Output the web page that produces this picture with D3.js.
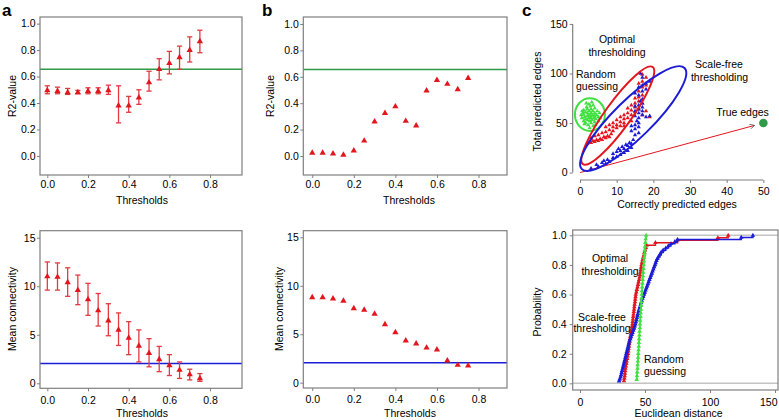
<!DOCTYPE html>
<html>
<head>
<meta charset="utf-8">
<script src="https://cdn.jsdelivr.net/npm/d3@7"></script>
<style>
body{margin:0;background:#fff}
svg{font-family:"Liberation Sans",Arial,Helvetica,sans-serif;font-size:10.5px}
</style>
</head>
<body>
<script>
// thresholds used in panels a and b
var thresholds = [0, 0.05, 0.1, 0.15, 0.2, 0.25, 0.3, 0.35, 0.4, 0.45, 0.5, 0.55, 0.6, 0.65, 0.7, 0.75]

// panel a, R2 (mean and error range)
var r2Mean = [0.495, 0.49, 0.48, 0.48, 0.49, 0.49, 0.495, 0.38, 0.38, 0.44, 0.555, 0.655, 0.70, 0.745, 0.80, 0.865]
var r2Low  = [0.47, 0.47, 0.465, 0.47, 0.47, 0.47, 0.465, 0.25, 0.33, 0.39, 0.49, 0.575, 0.62, 0.655, 0.71, 0.78]
var r2High = [0.53, 0.52, 0.51, 0.495, 0.515, 0.515, 0.535, 0.53, 0.45, 0.50, 0.64, 0.735, 0.79, 0.83, 0.90, 0.95]
// panel b, R2
var r2Single = [0.023, 0.023, 0.018, 0.008, 0.04, 0.115, 0.26, 0.325, 0.375, 0.265, 0.23, 0.495, 0.575, 0.545, 0.505, 0.59]
var r2Cutoff = 0.655

// panel a, mean connectivity
var connMean = [11.0, 10.95, 10.4, 9.6, 8.65, 7.5, 6.45, 5.5, 4.67, 3.85, 3.1, 2.47, 1.85, 1.37, 0.9, 0.5]
var connLow  = [9.6, 9.6, 8.96, 8.1, 7.0, 5.9, 4.9, 3.9, 2.95, 2.2, 1.7, 1.2, 0.8, 0.5, 0.35, 0.2]
var connHigh = [12.5, 12.4, 11.9, 11.15, 10.3, 9.25, 8.2, 7.25, 6.35, 5.5, 4.6, 3.8, 2.95, 2.2, 1.45, 1.0]
// panel b, mean connectivity
var connSingle = [8.8, 8.8, 8.67, 8.43, 7.67, 7.5, 7.09, 6.02, 5.19, 4.33, 4.02, 3.6, 3.4, 2.27, 1.82, 1.75]
var connTarget = 2.05

// panel c top: [correctly predicted, total predicted]
var randomPts = [[0.5,55],[0.8,60],[1,52],[1,58],[1,63],[1.3,56],[1.5,50],[1.5,54],[1.5,61],[1.8,66],
  [2,53],[2,57],[2,60],[2,64],[2.2,48],[2.4,55],[2.5,58],[2.5,62],[2.7,52],[2.8,67],[3,50],[3,55],
  [3,57],[3,60],[3,64],[3.3,53],[3.4,58],[3.5,62],[3.6,47],[3.8,55],[4,51],[4,57],[4,60],[4,65],
  [4.3,54],[4.5,58],[4.7,62],[5,52],[5,56],[5.3,60],[1.7,70],[2.4,69],[3.6,68],[0.3,58],[5.5,55],
  [1.2,49],[2.6,45],[4.2,48],[0.6,62],[3.2,71]]
var optimalPts = [[2,29],[2.5,31],[3,30],[3.5,32],[4,31],[4.5,33],[5,32],[5.5,34],[6,33],[6.5,36],
  [7,35],[7.5,37],[8,36],[8.5,39],[3,35],[4,37],[5,38],[6,40],[7,41],[8,43],[9,42],[9,46],[10,45],
  [10,48],[11,47],[11,51],[12,50],[12,54],[7,46],[8,48],[9,50],[10,53],[11,56],[12,58],[13,55],
  [13,60],[14,58],[14,63],[15,61],[15,66],[13,65],[14,68],[15,70],[16,64],[16,72],[16,76],[17,70],
  [17,78],[15,75],[16,82],[17,86],[17,92],[18,88],[17,99],[18,96],[19,56],[18,62],[17,58],[14,52],
  [12,47],[16,90]]
var scaleFreePts = [[3,4],[4.5,8],[5,6],[6,10],[6.5,12],[7,9],[7.5,13],[8,11],[9,15],[9,19],[10,16],
  [10,21],[10.5,24],[11,18],[11,22],[11.5,26],[12,20],[12,24],[12.5,28],[13,22],[13,27],[13.5,30],
  [14,25],[14,29],[14.5,33],[15,38],[15,44],[15,48],[15.5,52],[15,57],[16,40],[16,46],[16,50],
  [16,55],[16,60],[16,64],[16,68],[16.5,72],[17,58],[17,62],[17,66],[17,70],[17,74],[15,62],[15,67],
  [14,42],[14,47],[18,56],[19,57],[16,78],[17,82],[16,86],[17,88],[18,90],[18,84],[17,96],[16.5,100],
  [19,92],[15,80]]
var trueEdges = [50, 50]

// panel c bottom: euclidean distances
var distOptimal = [33.8,34.1,34.4,34.6,34.8,35.0,35.3,35.6,35.9,36.3,36.6,36.9,37.2,37.4,37.7,37.9,
  38.2,38.4,38.7,39.1,39.4,39.7,40.0,40.3,40.5,40.7,40.9,41.2,41.4,41.6,41.8,42.0,42.3,42.5,42.7,
  42.9,43.3,43.7,44.2,44.6,45.0,45.5,45.8,46.1,46.4,46.7,47.0,47.3,47.7,48.2,48.6,49.1,49.5,50.0,
  50.6,51.2,58.0,75.0,106.0,114.0]
var distScaleFree = [30.0,30.6,31.2,31.6,32.0,32.4,32.8,33.2,33.6,34.0,34.4,34.8,35.2,35.6,36.0,36.4,
  36.8,37.2,37.6,38.0,38.6,39.2,39.8,40.4,41.0,41.6,42.1,42.6,43.0,43.4,43.8,44.2,44.6,45.0,45.5,
  46.0,46.5,47.0,47.5,48.0,48.6,49.2,49.8,50.4,51.0,51.6,52.2,52.8,53.4,54.0,54.6,55.2,55.8,56.4,
  57.0,57.6,58.2,58.8,59.5,60.5,61.5,62.5,64.0,66.0,68.0,70.0,73.0,75.0,124.0,133.0]
var distRandom = [43.6,43.8,44.0,44.2,44.3,44.5,44.7,44.8,45.0,45.2,45.3,45.5,45.7,45.8,46.0,46.1,
  46.3,46.5,46.6,46.8,47.0,47.1,47.3,47.5,47.6,47.8,48.0,48.2,48.4,48.6,48.8,49.0,49.2,49.4,49.6,
  49.8,50.0,50.2,50.5,50.9]

var red = '#e3161e', blue = '#1c1cd6', green = '#3fe03f', darkGreen = '#2f9a4a', grey = '#7f7f7f'

var svg = d3.select('body').append('svg').attr('width', 779).attr('height', 420)

function axes(x, y, xt, yt, xf, yf, xPad, yPad) {
  var xa = svg.append('g').attr('transform', 'translate(0,' + y.range()[0] + ')')
    .call(d3.axisBottom(x).tickValues(xt).tickFormat(xf).tickSize(3).tickPadding(xPad))
  var ya = svg.append('g').attr('transform', 'translate(' + x.range()[0] + ',0)')
    .call(d3.axisLeft(y).tickValues(yt).tickFormat(yf).tickSize(3).tickPadding(yPad))
  ;[xa, ya].forEach(function(a){
    a.attr('font-family', null).attr('font-size', null)
    a.select('.domain').remove()
    a.selectAll('.tick line').attr('stroke', grey)
    a.selectAll('.tick text').attr('fill', '#000')
  })
  return xa
}

function box(x, y) {
  svg.append('rect')
     .attr('x', x.range()[0]).attr('y', y.range()[1])
     .attr('width', x.range()[1] - x.range()[0])
     .attr('height', y.range()[0] - y.range()[1])
     .attr('fill', 'none').attr('stroke', grey).attr('stroke-width', 1.2)
}

function hline(x, y, v, col) {
  svg.append('line')
     .attr('x1', x.range()[0]).attr('x2', x.range()[1])
     .attr('y1', y(v)).attr('y2', y(v))
     .attr('stroke', col).attr('stroke-width', 1.5)
}

function label(txt, px, py, opts) {
  opts = opts || {}
  var t = svg.append('text').attr('x', px).attr('y', py)
             .attr('text-anchor', opts.anchor || 'middle').text(txt)
  if (opts.rotate) t.attr('transform', 'rotate(-90,' + px + ',' + py + ')')
  if (opts.size) t.attr('font-size', opts.size)
  if (opts.bold) t.attr('font-weight', 'bold')
  return t
}

function triangles(x, y, pts, col, size) {
  svg.append('g').selectAll('path').data(pts).enter().append('path')
     .attr('d', d3.symbol().type(d3.symbolTriangle).size(size))
     .attr('transform', function(d){ return 'translate(' + x(d[0]) + ',' + y(d[1]) + ')' })
     .attr('fill', col)
}

function errorBars(x, y, lo, hi) {
  var g = svg.append('g').attr('stroke', '#e23a42').attr('stroke-width', 1.3)
  g.selectAll('.bar').data(thresholds).enter().append('line')
   .attr('x1', function(d){ return x(d) }).attr('x2', function(d){ return x(d) })
   .attr('y1', function(d, i){ return y(lo[i]) }).attr('y2', function(d, i){ return y(hi[i]) })
  ;[lo, hi].forEach(function(arr){
    g.selectAll(null).data(thresholds).enter().append('line')
     .attr('x1', function(d){ return x(d) - 2.6 }).attr('x2', function(d){ return x(d) + 2.6 })
     .attr('y1', function(d, i){ return y(arr[i]) }).attr('y2', function(d, i){ return y(arr[i]) })
  })
}

function zip(xs, ys) { return xs.map(function(v, i){ return [v, ys[i]] }) }

var f1 = d3.format('.1f'), f0 = d3.format('d')
var thrTicks = [0, 0.2, 0.4, 0.6, 0.8]

// ---- panel a
var xA = d3.scaleLinear().domain([-0.036, 0.957]).range([40, 242])
var yA1 = d3.scaleLinear().domain([-0.144, 1.05]).range([175, 17])
var yA2 = d3.scaleLinear().domain([-0.515, 15.72]).range([388.3, 230.7])

hline(xA, yA1, r2Cutoff, darkGreen)
errorBars(xA, yA1, r2Low, r2High)
triangles(xA, yA1, zip(thresholds, r2Mean), red, 17)
box(xA, yA1)
axes(xA, yA1, thrTicks, [0, 0.2, 0.4, 0.6, 0.8, 1.0], f1, f1, 2.8, 1.5)

hline(xA, yA2, connTarget, blue)
errorBars(xA, yA2, connLow, connHigh)
triangles(xA, yA2, zip(thresholds, connMean), red, 17)
box(xA, yA2)
axes(xA, yA2, thrTicks, [0, 5, 10, 15], f1, f0, 5, 1.5)

label('R2-value', 15.5, 96, {rotate: true})
label('Thresholds', 142, 204)
label('Mean connectivity', 15.5, 309, {rotate: true})
label('Thresholds', 142, 416.5)

// ---- panel b
var xB = d3.scaleLinear().domain([-0.043, 0.937]).range([303.3, 507])
var yB1 = d3.scaleLinear().domain([-0.144, 1.053]).range([175, 17])
var yB2 = d3.scaleLinear().domain([-0.55, 15.68]).range([388, 230.7])

hline(xB, yB1, r2Cutoff, darkGreen)
triangles(xB, yB1, zip(thresholds, r2Single), red, 17)
box(xB, yB1)
axes(xB, yB1, thrTicks, [0, 0.2, 0.4, 0.6, 0.8, 1.0], f1, f1, 2.8, 1.5)

hline(xB, yB2, connTarget, blue)
triangles(xB, yB2, zip(thresholds, connSingle), red, 17)
box(xB, yB2)
axes(xB, yB2, thrTicks, [0, 5, 10, 15], f1, f0, 5, 1.5)

label('R2-value', 274, 96, {rotate: true})
label('Thresholds', 409, 204)
label('Mean connectivity', 283, 309, {rotate: true})
label('Thresholds', 410, 416.5)

// ---- panel c top
var xC1 = d3.scaleLinear().domain([-2, 52]).range([572.7, 770.7])
var yC1 = d3.scaleLinear().domain([-7.5, 157]).range([180, 17])

svg.append('defs').append('marker').attr('id', 'arr')
   .attr('viewBox', '0 0 10 10').attr('refX', 9).attr('refY', 5)
   .attr('markerWidth', 5).attr('markerHeight', 5).attr('orient', 'auto')
   .append('path').attr('d', 'M0,0L10,5L0,10').attr('fill', 'none').attr('stroke', '#555').attr('stroke-width', 1.5)

svg.append('line')
   .attr('x1', xC1(0)).attr('y1', yC1(0))
   .attr('x2', xC1(trueEdges[0] * 0.95)).attr('y2', yC1(trueEdges[1] * 0.95))
   .attr('stroke', red).attr('stroke-width', 1).attr('marker-end', 'url(#arr)')

triangles(xC1, yC1, randomPts, green, 8)
triangles(xC1, yC1, optimalPts, red, 8)
triangles(xC1, yC1, scaleFreePts, blue, 8)

svg.append('circle').attr('cx', xC1(trueEdges[0])).attr('cy', yC1(trueEdges[1]))
   .attr('r', 4.3).attr('fill', darkGreen)

// group outlines: major-axis ends in data units, half-width in px
function outline(p0, p1, halfW, col) {
  var a = [xC1(p0[0]), yC1(p0[1])], b = [xC1(p1[0]), yC1(p1[1])]
  var cx = (a[0] + b[0]) / 2, cy = (a[1] + b[1]) / 2
  var rx = Math.hypot(b[0] - a[0], b[1] - a[1]) / 2
  var ang = Math.atan2(b[1] - a[1], b[0] - a[0]) * 180 / Math.PI
  svg.append('ellipse').attr('cx', 0).attr('cy', 0).attr('rx', rx).attr('ry', halfW)
     .attr('transform', 'translate(' + cx + ',' + cy + ') rotate(' + ang + ')')
     .attr('fill', 'none').attr('stroke', col).attr('stroke-width', 2)
}
outline([2.7, 42], [2.7, 75], 15, green)
outline([0.8, 8.5], [19.8, 106.5], 13, red)
outline([0.5, 3.5], [28.5, 105.5], 19, blue)

var xc1 = svg.append('g').attr('transform', 'translate(0,180)')
  .call(d3.axisBottom(xC1).tickValues([0, 10, 20, 30, 40, 50]).tickSize(3).tickPadding(5))
var yc1 = svg.append('g').attr('transform', 'translate(572.7,0)')
  .call(d3.axisLeft(yC1).tickValues([0, 50, 100, 150]).tickSize(3).tickPadding(2))
;[xc1, yc1].forEach(function(a){
  a.attr('font-family', null).attr('font-size', null)
  a.select('.domain').remove()
  a.selectAll('.tick line').attr('stroke', grey)
  a.selectAll('.tick text').attr('fill', '#000')
})
svg.append('line').attr('x1', xC1(0)).attr('x2', xC1(50)).attr('y1', 180).attr('y2', 180)
   .attr('stroke', grey).attr('stroke-width', 1.2)
svg.append('line').attr('x1', 572.7).attr('x2', 572.7).attr('y1', yC1(0)).attr('y2', yC1(150))
   .attr('stroke', grey).attr('stroke-width', 1.2)

label('Optimal', 617, 43)
label('thresholding', 617, 55.5)
label('Random', 576, 77.5, {anchor: 'start'})
label('guessing', 576, 89.5, {anchor: 'start'})
label('Scale-free', 719, 68)
label('thresholding', 719.5, 80.5)
label('True edges', 742.5, 115.5)
label('Total predicted edges', 541, 101.5, {rotate: true})
label('Correctly predicted edges', 677, 208)

// ---- panel c bottom (ECDF)
var xC2 = d3.scaleLinear().domain([-5.6, 152.3]).range([572.7, 778])
var yC2 = d3.scaleLinear().domain([-0.045, 1.036]).range([390, 230])

svg.append('defs').append('clipPath').attr('id', 'clipc')
   .append('rect').attr('x', 572.7).attr('y', 230).attr('width', 205.3).attr('height', 160)

hline(xC2, yC2, 0, '#c4c4c4')
hline(xC2, yC2, 1, '#c4c4c4')

function ecdf(vals) {
  var s = vals.slice().sort(d3.ascending)
  return s.map(function(v, i){ return [v, (i + 1) / s.length] })
}
var step = d3.line().x(function(d){ return xC2(d[0]) }).y(function(d){ return yC2(d[1]) }).curve(d3.curveStepAfter)
;[[distOptimal, red], [distScaleFree, blue], [distRandom, green]].forEach(function(s){
  var pts = ecdf(s[0])
  svg.append('path').datum(pts).attr('d', step).attr('fill', 'none')
     .attr('stroke', s[1]).attr('stroke-width', 1.5).attr('clip-path', 'url(#clipc)')
  triangles(xC2, yC2, pts, s[1], 9)
})

box(xC2, yC2)
var xc2 = axes(xC2, yC2, [0, 50, 100, 150], [0, 0.2, 0.4, 0.6, 0.8, 1.0], f0, f1, 5.5, 3)
// last tick label sits at the figure edge
xc2.selectAll('.tick text').filter(function(d){ return d === 150 }).attr('text-anchor', 'end').attr('dx', '2')

label('Optimal', 610, 262)
label('thresholding', 610, 274.5)
label('Scale-free', 602, 320.5)
label('thresholding', 602, 332)
label('Random', 644, 363, {anchor: 'start'})
label('guessing', 644, 374.5, {anchor: 'start'})
label('Probability', 541, 312, {rotate: true})
label('Euclidean distance', 678.5, 416.5)

// panel letters
label('a', 2, 16, {anchor: 'start', size: '17px', bold: true})
label('b', 262, 16, {anchor: 'start', size: '17px', bold: true})
label('c', 522, 16, {anchor: 'start', size: '17px', bold: true})
</script>
</body>
</html>
